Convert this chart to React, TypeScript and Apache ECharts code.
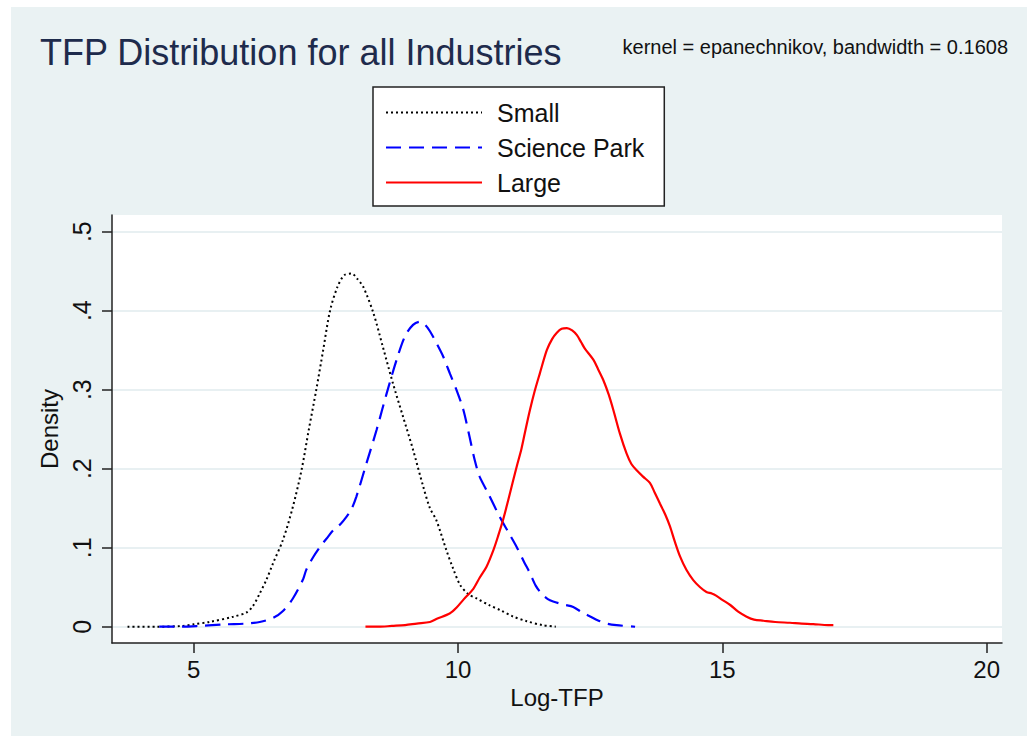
import React, { useEffect, useRef } from "react";
import * as echarts from "echarts";

const FONT = "'Liberation Sans', Arial, sans-serif";

const xTicks = [5, 10, 15, 20];
const yTicks = [0, 0.1, 0.2, 0.3, 0.4, 0.5];

const seriesNames = ["Small", "Science Park", "Large"];

const smallData: [number, number][] = [
  [3.75, 0], [4.3, 0], [4.8, 0.001], [5.0, 0.003], [5.3, 0.006], [5.75, 0.0127], [6.0, 0.018],
  [6.12, 0.026], [6.25, 0.042], [6.38, 0.06], [6.5, 0.08], [6.69, 0.11], [6.87, 0.15],
  [7.04, 0.198], [7.18, 0.25], [7.32, 0.3], [7.45, 0.35], [7.58, 0.4], [7.72, 0.43],
  [7.85, 0.445], [7.99, 0.447], [8.1, 0.44], [8.21, 0.43], [8.4, 0.397], [8.58, 0.354],
  [8.77, 0.308], [8.96, 0.266], [9.15, 0.224], [9.34, 0.178], [9.47, 0.15], [9.59, 0.135],
  [9.78, 0.097], [9.9, 0.075], [10.04, 0.053], [10.2, 0.041], [10.35, 0.036], [10.6, 0.027],
  [10.8, 0.021], [11.04, 0.013], [11.3, 0.007], [11.6, 0.002], [11.85, 0],
];

const scienceParkData: [number, number][] = [
  [4.35, 0], [4.7, 0], [5.1, 0.001], [5.6, 0.003], [6.0, 0.004], [6.25, 0.006], [6.5, 0.011],
  [6.69, 0.02], [6.88, 0.036], [7.07, 0.06], [7.13, 0.072], [7.26, 0.088], [7.39, 0.101],
  [7.52, 0.112], [7.64, 0.122], [7.78, 0.13], [7.89, 0.139], [7.98, 0.148], [8.08, 0.165],
  [8.27, 0.207], [8.46, 0.249], [8.65, 0.295], [8.84, 0.338], [9.0, 0.368], [9.15, 0.382],
  [9.28, 0.386], [9.38, 0.382], [9.47, 0.374], [9.6, 0.358], [9.72, 0.342], [9.85, 0.32],
  [9.97, 0.3], [10.1, 0.275], [10.22, 0.24], [10.32, 0.21], [10.41, 0.19], [10.57, 0.169],
  [10.79, 0.139], [10.95, 0.12], [11.11, 0.101], [11.25, 0.082], [11.36, 0.068], [11.47, 0.052],
  [11.58, 0.042], [11.7, 0.035], [11.8, 0.032], [12.0, 0.028], [12.18, 0.025], [12.35, 0.018],
  [12.5, 0.013], [12.65, 0.008], [12.81, 0.004], [13.0, 0.002], [13.35, 0],
];

const largeData: [number, number][] = [
  [8.25, 0], [8.5, 0], [8.75, 0.001], [9.0, 0.002], [9.22, 0.004], [9.47, 0.006], [9.6, 0.01],
  [9.85, 0.017], [9.97, 0.024], [10.1, 0.034], [10.29, 0.048], [10.41, 0.062], [10.54, 0.076],
  [10.67, 0.097], [10.76, 0.115], [10.86, 0.137], [10.95, 0.16], [11.04, 0.184], [11.12, 0.205],
  [11.2, 0.225], [11.28, 0.25], [11.36, 0.274], [11.45, 0.298], [11.55, 0.321], [11.68, 0.35],
  [11.78, 0.364], [11.87, 0.372], [11.96, 0.377], [12.06, 0.378], [12.16, 0.375], [12.25, 0.369],
  [12.33, 0.36], [12.4, 0.352], [12.56, 0.338], [12.65, 0.326], [12.75, 0.312], [12.85, 0.294],
  [12.94, 0.274], [13.06, 0.245], [13.19, 0.219], [13.28, 0.206], [13.38, 0.198], [13.5, 0.19],
  [13.63, 0.182], [13.72, 0.17], [13.82, 0.156], [13.92, 0.142], [14.01, 0.127], [14.1, 0.108],
  [14.2, 0.089], [14.32, 0.072], [14.45, 0.059], [14.58, 0.05], [14.7, 0.044], [14.8, 0.042],
  [14.89, 0.039], [15.0, 0.034], [15.15, 0.0275], [15.3, 0.019], [15.46, 0.0127], [15.6, 0.009],
  [15.78, 0.0076], [16.0, 0.006], [16.28, 0.005], [16.5, 0.004], [16.72, 0.0034], [17.0, 0.002],
  [17.1, 0.002],
];

export default function App() {
  const ref = useRef<HTMLDivElement>(null);

  useEffect(() => {
    if (!ref.current) return;
    const chart = echarts.init(ref.current, undefined, { renderer: "svg" });
    const axisColor = "#222";
    chart.setOption({
      animation: false,
      backgroundColor: "#eaf2f3",
      textStyle: { fontFamily: FONT },
      title: [
        {
          text: "TFP Distribution for all Industries",
          left: 29,
          top: 27,
          padding: 0,
          textStyle: { fontSize: 36, fontWeight: "normal", color: "#1e2b4c", fontFamily: FONT },
        },
        {
          text: "kernel = epanechnikov, bandwidth = 0.1608",
          right: 19,
          top: 30,
          padding: 0,
          textStyle: { fontSize: 20, fontWeight: "normal", color: "#111", fontFamily: FONT },
        },
      ],
      legend: {
        data: seriesNames,
        orient: "vertical",
        left: 362,
        top: 80,
        padding: [13, 20, 11, 12],
        itemWidth: 96,
        itemHeight: 14,
        itemGap: 10,
        backgroundColor: "#ffffff",
        borderColor: "#222",
        borderWidth: 1.5,
        borderRadius: 0,
        itemStyle: { opacity: 0, borderWidth: 0 },
        textStyle: { fontSize: 25, color: "#111", fontFamily: FONT, padding: [0, 0, 0, 10] },
      },
      grid: {
        left: 101,
        top: 208,
        right: 25,
        bottom: 93,
        show: true,
        backgroundColor: "#ffffff",
        borderWidth: 0,
        containLabel: false,
      },
      xAxis: {
        type: "value",
        min: 3.456,
        max: 20.29,
        name: "Log-TFP",
        nameLocation: "middle",
        nameGap: 41,
        nameTextStyle: { fontSize: 24, color: "#111", fontFamily: FONT },
        axisLine: { show: true, onZero: false, lineStyle: { color: axisColor, width: 1.5 } },
        axisTick: { show: true, inside: false, length: 10, customValues: xTicks, lineStyle: { color: axisColor, width: 1.5 } },
        axisLabel: { customValues: xTicks, fontSize: 24, color: "#111", margin: 14, fontFamily: FONT },
        splitLine: { show: false },
      },
      yAxis: {
        type: "value",
        min: -0.0206,
        max: 0.5211,
        name: "Density",
        nameLocation: "middle",
        nameRotate: 90,
        nameGap: 47,
        nameTextStyle: { fontSize: 24, color: "#111", fontFamily: FONT },
        axisLine: { show: true, onZero: false, lineStyle: { color: axisColor, width: 1.5 } },
        axisTick: { show: true, inside: false, length: 10, customValues: yTicks, lineStyle: { color: axisColor, width: 1.5 } },
        axisLabel: {
          customValues: yTicks,
          rotate: 90,
          fontSize: 25,
          color: "#111",
          margin: 18,
          fontFamily: FONT,
          formatter: (v: number) => (v === 0 ? "0" : v.toFixed(1).replace(/^0/, "")),
        },
        splitLine: { show: true, lineStyle: { color: "#e8f0f2", width: 2 } },
      },
      series: [
        {
          name: "Small",
          type: "line",
          data: smallData,
          symbol: "none",
          smooth: 0.3,
          lineStyle: { color: "#000000", width: 2, type: [2, 3] },
          itemStyle: { color: "#000000" },
        },
        {
          name: "Science Park",
          type: "line",
          data: scienceParkData,
          symbol: "none",
          smooth: 0.3,
          lineStyle: { color: "#0000ff", width: 2.2, type: [15, 8] },
          itemStyle: { color: "#0000ff" },
        },
        {
          name: "Large",
          type: "line",
          data: largeData,
          symbol: "none",
          smooth: 0.3,
          lineStyle: { color: "#ff0000", width: 2.2, type: "solid" },
          itemStyle: { color: "#ff0000" },
        },
      ],
    });
    return () => chart.dispose();
  }, []);

  return (
    <div style={{ position: "fixed", left: 0, top: 0, width: 1029, height: 736, background: "#ffffff" }}>
      <div ref={ref} style={{ position: "absolute", left: 11, top: 7, width: 1016, height: 729 }} />
    </div>
  );
}
